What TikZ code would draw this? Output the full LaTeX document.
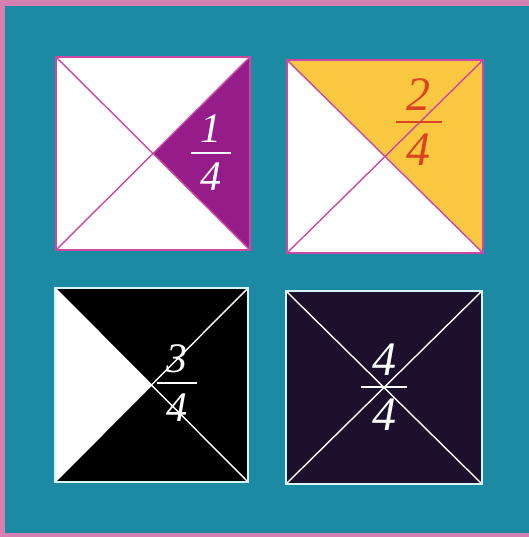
\documentclass[tikz,border=0pt]{standalone}
\usepackage{fontspec}
\newfontfamily\fracfont{Liberation Serif}
\usepackage{xcolor}
\definecolor{pinkframe}{RGB}{214,128,178}
\definecolor{tealback}{RGB}{28,138,162}
\definecolor{quartmag}{RGB}{150,28,138}
\definecolor{quartline}{RGB}{204,72,164}
\definecolor{quartyellow}{RGB}{250,200,64}
\definecolor{fracred}{RGB}{218,68,34}
\definecolor{quartnavy}{RGB}{28,16,44}
\usepackage{tikz}
\tikzset{
  square/.style={line width=1pt},
  diag/.style={line width=0.7pt},
  fraction/.style={
    inner sep=0pt,
    font=\fracfont\itshape\fontsize{21}{24}\selectfont
  },
  bigfraction/.style={
    fraction,
    font=\fracfont\itshape\fontsize{24}{28}\selectfont
  },
}
% numerator over a bar over 4
\newcommand{\quarter}[1]{\vbox{\offinterlineskip
  \halign{\hfil##\hfil\cr #1\cr\noalign{\kern0.22em}
    \rule{0.95em}{0.05em}\cr\noalign{\kern0.22em}4\cr}}}

\begin{document}
\begin{tikzpicture}[x=0.5pt,y=-0.5pt]
  % frame and background
  \fill[pinkframe] (0,0) rectangle (529,537);
  \fill[tealback]  (5,6) rectangle (529,533);

  % one quarter
  \coordinate (a1) at (56,57);   \coordinate (b1) at (250,57);
  \coordinate (c1) at (250,250); \coordinate (d1) at (56,250);
  \coordinate (m1) at (153,153.5);
  \fill[white] (a1) rectangle (c1);
  \fill[quartmag] (m1) -- (b1) -- (c1) -- cycle;
  \draw[diag, quartline] (a1) -- (c1) (b1) -- (d1);
  \draw[square, quartline] (a1) rectangle (c1);
  \node (one) [fraction, text=white] at (211,153) {\quarter{1}};

  % two quarters
  \coordinate (a2) at (287,60);  \coordinate (b2) at (483,60);
  \coordinate (c2) at (483,253); \coordinate (d2) at (287,253);
  \coordinate (m2) at (385,156.5);
  \fill[white] (a2) rectangle (c2);
  \fill[quartyellow] (a2) -- (b2) -- (c2) -- (m2) -- cycle;
  \draw[diag, quartline] (a2) -- (c2) (b2) -- (d2);
  \draw[square, quartline] (a2) rectangle (c2);
  \node (two) [bigfraction, text=fracred] at (419,122) {\quarter{2}};

  % three quarters
  \coordinate (a3) at (55,288);  \coordinate (b3) at (248,288);
  \coordinate (c3) at (248,482); \coordinate (d3) at (55,482);
  \coordinate (m3) at (151.5,385);
  \fill[white] (a3) rectangle (c3);
  \fill[black] (a3) -- (b3) -- (c3) -- (d3) -- (m3) -- cycle;
  \draw[diag, white] (a3) -- (c3) (b3) -- (d3);
  \draw[square, white!85!cyan] (a3) rectangle (c3);
  \node (three) [fraction, text=white] at (177,383) {\quarter{3}};

  % four quarters
  \coordinate (a4) at (286,291); \coordinate (b4) at (482,291);
  \coordinate (c4) at (482,484); \coordinate (d4) at (286,484);
  \coordinate (m4) at (384,387.5);
  \fill[quartnavy] (a4) rectangle (c4);
  \draw[diag, white] (a4) -- (c4) (b4) -- (d4);
  \draw[square, white!85!cyan] (a4) rectangle (c4);
  \node (four) [bigfraction, text=white] at (384,387) {\quarter{4}};
\end{tikzpicture}
\end{document}
